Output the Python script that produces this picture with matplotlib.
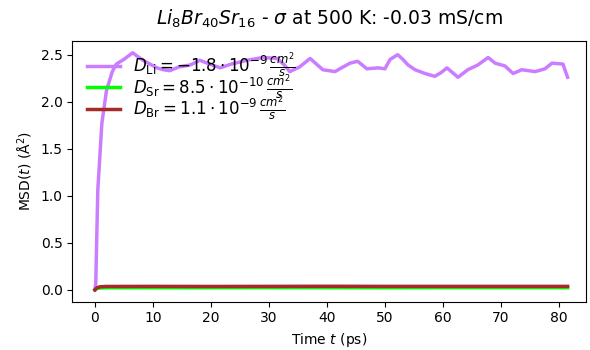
import matplotlib
matplotlib.use("Agg")
import matplotlib.pyplot as plt

# Li MSD
t_li = [0, 0.15, 0.5, 1.2, 2.0, 3.0, 3.7, 5.0, 6.5, 7.4, 8.3, 9.5, 10.7, 11.8, 12.9,
        14.5, 16.4, 18.1, 19.8, 21.6, 23.5, 26.2, 29.0, 31.4, 32.5, 33.6, 35.3, 37.1,
        38.2, 39.3, 41.4, 42.8, 44.0, 45.3, 46.9, 48.8, 50.0, 50.9, 52.2, 53.1,
        54.0, 55.2, 56.9, 58.6, 59.7, 60.7, 62.6, 64.3, 66.0, 67.8, 69.0, 70.7,
        72.1, 73.6, 75.9, 77.6, 78.8, 80.7, 81.2, 81.5]
msd_li = [0.0, 0.07, 1.06, 1.77, 2.12, 2.32, 2.40, 2.45, 2.52, 2.48, 2.44, 2.40,
          2.36, 2.34, 2.33, 2.37, 2.39, 2.44, 2.40, 2.36, 2.40, 2.44, 2.47, 2.46,
          2.40, 2.32, 2.37, 2.46, 2.40, 2.34, 2.32, 2.37, 2.41, 2.43, 2.35, 2.36,
          2.35, 2.45, 2.50, 2.45, 2.39, 2.34, 2.30, 2.27, 2.31, 2.36, 2.26, 2.34,
          2.39, 2.47, 2.41, 2.38, 2.30, 2.34, 2.32, 2.35, 2.41, 2.40, 2.31, 2.26]

t_other = [0, 0.3, 0.7, 1.2, 2.0, 10, 20, 30, 40, 50, 60, 70, 81.5]
msd_sr = [0.0, 0.012, 0.018, 0.021, 0.022, 0.022, 0.022, 0.023, 0.023, 0.022, 0.023, 0.023, 0.023]
msd_br = [0.0, 0.020, 0.030, 0.034, 0.036, 0.037, 0.036, 0.037, 0.038, 0.037, 0.037, 0.037, 0.037]

labels = [r'$D_{\mathrm{Li}} = -1.8 \cdot 10^{-9}\,\frac{cm^2}{s}$',
          r'$D_{\mathrm{Sr}} = 8.5 \cdot 10^{-10}\,\frac{cm^2}{s}$',
          r'$D_{\mathrm{Br}} = 1.1 \cdot 10^{-9}\,\frac{cm^2}{s}$']
colors = ['#cc7dff', '#00ff00', '#a52a2a']

fig = plt.figure(figsize=(5.9, 3.5), dpi=100)
ax = fig.add_axes([0.1225, 0.138, 0.871, 0.745])
ax.plot(t_li, msd_li, color=colors[0], lw=2.5, label=labels[0])
ax.plot(t_other, msd_sr, color=colors[1], lw=2.5, label=labels[1])
ax.plot(t_other, msd_br, color=colors[2], lw=2.5, label=labels[2])
ax.set_xlim(-3.9, 84.7)
ax.set_xticks([0, 10, 20, 30, 40, 50, 60, 70, 80])
ax.set_xlabel('Time $t$ (ps)')
ax.set_ylabel('MSD($t$) (Å$^2$)')
ax.set_title(r'$Li_{8}Br_{40}Sr_{16}$ - $\sigma$ at 500 K: -0.03 mS/cm', fontsize=13.5, pad=12)
ax.legend(loc='upper left', bbox_to_anchor=(0.01, 1), frameon=False, fontsize=12,
          borderaxespad=0.25, labelspacing=-0.42, borderpad=0.3)
fig.savefig('out.png', dpi=100)
